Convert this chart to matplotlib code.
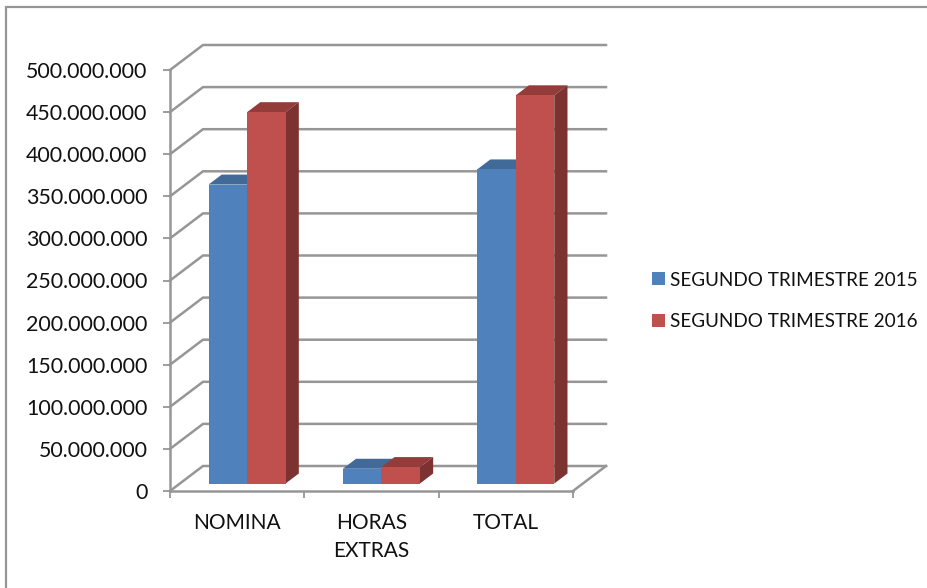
import numpy as np
import matplotlib
matplotlib.use('Agg')
import matplotlib.pyplot as plt
from matplotlib.patches import Rectangle

plt.rcParams['font.family'] = ['Lato', 'DejaVu Sans']

# datos
categorias = ['NOMINA', 'HORAS\nEXTRAS', 'TOTAL']
serie_2015 = [355e6, 17.5e6, 373e6]
serie_2016 = [441e6, 19.5e6, 461e6]
nombres = ['SEGUNDO TRIMESTRE 2015', 'SEGUNDO TRIMESTRE 2016']
y_ticks = [0, 50e6, 100e6, 150e6, 200e6, 250e6, 300e6, 350e6, 400e6, 450e6, 500e6]
y_labels = ['0', '50.000.000', '100.000.000', '150.000.000', '200.000.000', '250.000.000',
            '300.000.000', '350.000.000', '400.000.000', '450.000.000', '500.000.000']

W, H = 928, 588
gris = '#969696'

fig = plt.figure(figsize=(W / 100, H / 100), dpi=100)
# marco exterior
fig.add_artist(Rectangle((6.5 / W, -0.1), 2, 1.1 - 7 / H, transform=fig.transFigure,
                         fill=False, edgecolor=gris, linewidth=1.6))

ax = fig.add_axes([170 / W, 1 - 491 / H, 403 / W, 421 / H])
ax.set_xlim(0, 3)
ax.set_ylim(0, 500e6)

# desplazamiento oblicuo de la pared del fondo, en unidades de datos
dx = 33 / (403 / 3)
dy = 25 / (421 / 500e6)


def oblicuo(x, y, d):
    return x + d * dx, y + d * dy


# rejilla en la pared y el lateral
for v in y_ticks:
    xs, ys = zip(oblicuo(0, v, 0), oblicuo(0, v, 1), oblicuo(3, v, 1))
    ax.plot(xs, ys, color=gris, lw=1.8, clip_on=False, zorder=1, solid_joinstyle='miter')
xs, ys = zip(oblicuo(3, 0, 0), oblicuo(3, 0, 1))
ax.plot(xs, ys, color=gris, lw=1.8, clip_on=False, zorder=1)

# barras con falsa profundidad
ancho = 0.287
d0, d1 = 0.3, 0.7
posiciones = np.arange(len(categorias)) + 0.5
series = [
    (serie_2015, posiciones - ancho, '#4f81bd', '#3b6290', '#416a99'),
    (serie_2016, posiciones, '#c0504d', '#7b3230', '#943c3a'),
]
handles = []
for (valores, izq, frente, lado, tapa), nombre in zip(series, nombres):
    x0, y0 = oblicuo(izq, 0, d0)
    for xi, v in zip(izq, valores):
        p = [oblicuo(xi, v, d0), oblicuo(xi, v, d1), oblicuo(xi + ancho, v, d1), oblicuo(xi + ancho, v, d0)]
        ax.fill(*zip(*p), color=tapa, lw=0, clip_on=False, zorder=2)
        p = [oblicuo(xi + ancho, 0, d0), oblicuo(xi + ancho, 0, d1), oblicuo(xi + ancho, v, d1), oblicuo(xi + ancho, v, d0)]
        ax.fill(*zip(*p), color=lado, lw=0, clip_on=False, zorder=2)
    b = ax.bar(x0, valores, ancho, bottom=y0, align='edge', color=frente, label=nombre,
               clip_on=False, zorder=2)
    handles.append(b)

for s in ['top', 'right']:
    ax.spines[s].set_visible(False)
for s in ['left', 'bottom']:
    ax.spines[s].set_color(gris)
    ax.spines[s].set_linewidth(1.8)

ax.set_yticks(y_ticks)
ax.set_yticklabels(y_labels, fontsize=15.4, color='#111111')
ax.tick_params(axis='y', length=5.2, width=1.3, color=gris, pad=11)
ax.set_xticks([0, 1, 2, 3])
ax.set_xticklabels([])
ax.set_xticks(posiciones, minor=True)
ax.set_xticklabels(categorias, minor=True, fontsize=15, color='#111111', linespacing=1.5)
ax.tick_params(axis='x', which='major', length=5.2, width=1.3, color=gris)
ax.tick_params(axis='x', which='minor', length=0, pad=15.5)

fig.legend(handles=handles, labels=nombres, loc='upper left', bbox_to_anchor=(644 / W, 1 - 264 / H),
           frameon=False, fontsize=13.6, handlelength=0.69, handleheight=0.69, handletextpad=0.3,
           labelspacing=1.32, labelcolor='#111111', borderpad=0.4, borderaxespad=0)

fig.savefig('out.png', dpi=100)
